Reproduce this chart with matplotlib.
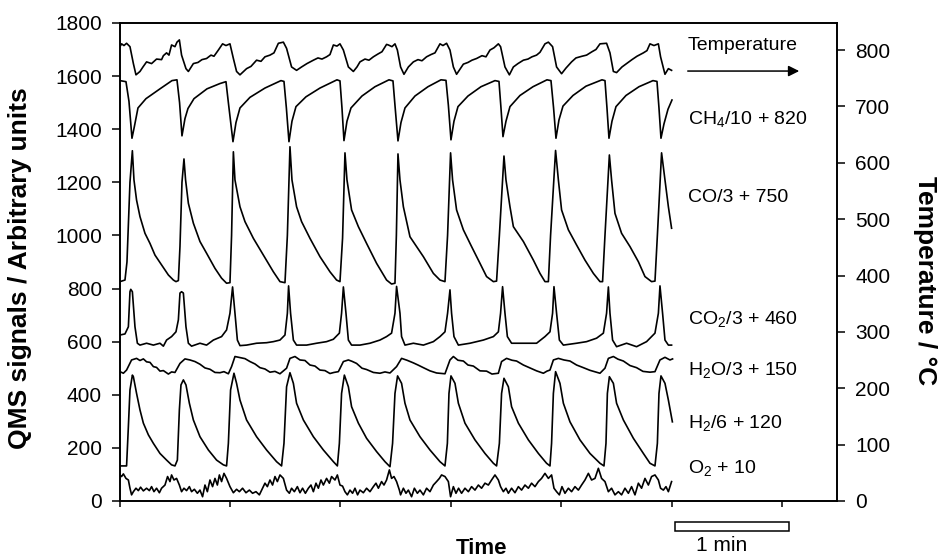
import numpy as np
import matplotlib
matplotlib.use("Agg")
import matplotlib.pyplot as plt
from matplotlib.patches import Rectangle

plt.rcParams['font.family'] = ['Liberation Sans', 'DejaVu Sans']
plt.rcParams['mathtext.fontset'] = 'custom'
plt.rcParams['mathtext.rm'] = 'Liberation Sans'

# time in seconds, QMS signals in arbitrary units (already offset), temperature in degC
t_ch4 = [0, 3, 4.5, 6, 7.2, 9, 13, 20, 26, 28.5, 29.8, 31, 32.5, 34, 37, 43.5, 50, 53, 54.2, 56.5,
         58, 60, 65, 72.5, 80.5, 82, 83.2, 84.5, 86, 88, 93, 100, 108.5, 110, 111, 112, 113.5, 115.5, 121, 127.5,
         134.5, 136.5, 137.5, 139, 140.5, 142.5, 147.5, 154, 160.5, 163, 164.2, 165.5, 167, 169, 174, 180.5, 187.5,
         189.5, 190.5, 191.5, 193, 195, 200, 206.5, 213.5, 215.5, 216.8, 218, 219.5, 221.5, 226.5, 233, 241, 242.5,
         243.5, 244.5, 246, 248, 253, 259.5, 266.5, 268.5, 269.5, 270.5, 272, 274, 276]
ch4 = [1583, 1579, 1505, 1366, 1410, 1480, 1515, 1552, 1583, 1586, 1500, 1375, 1440, 1478, 1515, 1552, 1572, 1579, 1500, 1353,
       1425, 1480, 1520, 1555, 1583, 1580, 1480, 1353, 1430, 1485, 1522, 1555, 1586, 1582, 1480, 1357, 1430, 1480, 1525, 1560,
       1586, 1582, 1490, 1356, 1425, 1480, 1525, 1560, 1586, 1584, 1490, 1360, 1430, 1485, 1525, 1560, 1583,
       1580, 1480, 1372, 1430, 1485, 1527, 1560, 1586, 1583, 1480, 1366, 1435, 1487, 1527, 1562, 1586, 1583,
       1480, 1366, 1430, 1485, 1527, 1560, 1583, 1580, 1480, 1366, 1420, 1475, 1510]

t_co = [0, 2.5, 3.5, 5, 6.2, 7, 8.3, 10, 12.5, 15, 17.5, 20.8, 24.2, 26.7, 28, 29.2, 30, 31, 32, 32.8,
        34.2, 36.7, 40, 43.3, 47.5, 50.8, 53.3, 55, 55.8, 56.7, 57.5, 60, 62.5, 66.7, 71.7, 76.7, 80, 82.5, 83.7, 85,
        86, 88.3, 90.8, 95, 100, 105, 108.3, 110, 111.3, 112.5, 113.5, 115.8, 119.2, 123.3, 128.3, 133.3, 135.8, 137.5,
        138.2, 139, 140, 141.7, 145, 148.3, 151.7, 156.7, 160, 162.5, 163.8, 165.3, 166.3, 168.3, 171.7, 175.8, 180,
        183.3, 186.7, 188.3, 189.7, 192, 193, 195, 196.7, 201.7, 206.7, 210, 212.5, 214.2, 215.3, 217.8, 219.2, 220.8,
        224.2, 228.3, 232.5, 236.7, 240, 241.3, 242.5, 244.7, 245.8, 247.5, 250.8, 255, 259.2, 262.5, 265.8, 267.5,
        268.7, 270.8, 272.5, 274.2, 275.8]
co = [826, 832, 900, 1200, 1319, 1209, 1133, 1071, 1008, 970, 926, 889, 851, 832, 826, 830, 958, 1200, 1288, 1209,
      1121, 1046, 977, 933, 876, 839, 820, 822, 1000, 1315, 1209, 1108, 1052, 989, 926, 863, 826, 822, 1000, 1334,
      1209, 1108, 1052, 989, 920, 863, 832, 826, 990, 1311, 1209, 1096, 1033, 970, 895, 832, 817, 820, 1000, 1307,
      1209, 1108, 995, 958, 920, 857, 832, 826, 1000, 1311, 1209, 1096, 1021, 958, 895, 845, 826, 828, 1000, 1299,
      1209, 1108, 1033, 977, 907, 857, 826, 826, 1000, 1320, 1209, 1096, 1021, 964, 907, 857, 826, 826, 1000, 1303,
      1209, 1083, 1008, 958, 901, 845, 826, 828, 1000, 1311, 1209, 1108, 1027]

t_co2 = [0, 2.5, 4.2, 5, 5.4, 6.2, 7.5, 8.7, 10, 13.3, 16.7, 20, 21.7, 23.3, 25.8, 28, 29.2, 30, 30.8, 31.7,
         33, 34.2, 35.8, 40, 43.3, 46.7, 50.8, 53.3, 55, 56.3, 57.5, 58.7, 60, 63.3, 68.3, 73.3, 76.7, 80, 82.5, 83.7,
         84.3, 85.3, 86.7, 88.3, 93.3, 98.3, 103.3, 106.7, 109.7, 110.8, 111.7, 113, 114.2, 115.8, 120, 125, 130, 133.3,
         135.8, 137.5, 138.3, 140, 140.8, 142.5, 146.7, 151.7, 156.7, 160, 162.5, 163.8, 165, 165.8, 167, 169.2, 175,
         181.7, 186.7, 189.2, 190.3, 191.3, 192.5, 193.7, 195.8, 201.7, 208.3, 212.5, 215, 216.3, 217, 218.3, 219.7,
         221.7, 228.3, 233.3, 238.3, 241.7, 243.3, 244.2, 245, 246.3, 248.3, 253.3, 258.3, 263.3, 267.5, 269.2, 270,
         271.3, 272.5, 274.2, 275.8]
co2 = [625, 629, 656, 788, 797, 788, 656, 594, 587, 594, 587, 594, 583, 606, 619, 637, 682, 783, 788, 783,
       656, 594, 583, 594, 587, 606, 619, 644, 707, 806, 707, 606, 585, 587, 594, 596, 600, 606, 625, 707,
       810, 707, 606, 587, 587, 594, 600, 609, 632, 707, 806, 707, 606, 587, 587, 594, 606, 619, 632, 707,
       808, 707, 619, 587, 594, 587, 600, 619, 637, 707, 795, 707, 619, 587, 594, 606, 619, 637, 707, 807,
       707, 619, 594, 594, 594, 619, 637, 707, 807, 707, 606, 587, 594, 600, 613, 632, 707, 806, 707, 606,
       581, 594, 581, 600, 632, 707, 810, 707, 606, 587, 587]

t_h2o = [0, 1.7, 3.3, 5.8, 8.3, 10, 11.7, 13.3, 15, 16.7, 18.3, 20, 21.7, 24.2, 25.8, 27.5, 30, 32.5, 35, 37.5,
         40, 42.5, 45, 47.5, 50, 52, 54.2, 55.8, 57.5, 60, 62.5, 65, 67.5, 70, 72.5, 75, 77.5, 80, 83.3, 85,
         87.5, 90, 92.5, 95, 97.5, 100, 102.5, 105, 107, 109.2, 111.7, 114.2, 116, 118.3, 121, 123.3, 126.7, 130, 132.5, 135,
         138.3, 140.8, 143.5, 146.7, 149, 151.7, 155, 158.3, 162.5, 165, 166.7, 169, 171.7, 174, 176.7, 180, 183.3, 186, 189.2, 190.8,
         193.3, 196, 198.3, 201.7, 205, 208.3, 211.7, 213.5, 215, 216.7, 219.2, 222, 225, 228.3, 231.7, 235, 240, 242.5, 244.2, 246.7,
         249, 251.7, 255, 258.3, 261.5, 265, 267.5, 270, 272.5, 275, 276.3]
h2o = [487, 481, 493, 531, 537, 529, 535, 524, 522, 506, 503, 489, 491, 478, 486, 484, 518, 535, 531, 525,
       515, 501, 496, 484, 483, 487, 479, 506, 544, 540, 536, 525, 516, 502, 497, 485, 488, 479, 500, 537,
       544, 531, 529, 512, 508, 493, 491, 480, 484, 487, 525, 531, 526, 518, 500, 495, 484, 481, 486, 482,
       506, 537, 530, 520, 512, 502, 490, 482, 479, 531, 544, 530, 527, 512, 508, 490, 489, 478, 481, 525,
       537, 530, 527, 512, 501, 490, 481, 489, 493, 531, 537, 531, 527, 512, 502, 492, 481, 500, 537, 544,
       534, 527, 510, 502, 488, 485, 487, 531, 541, 531, 535]

t_h2 = [0, 3.3, 4.2, 5, 6.2, 6.7, 8.3, 10, 11.7, 14.2, 16.7, 20, 23.3, 25.8, 27.5, 28.7, 29.7, 30.5, 31.7, 33,
        34.7, 36.7, 40, 44.2, 48.3, 51.7, 53.3, 54.2, 55.3, 57, 58.3, 60, 63.3, 68.3, 73.3, 78.3, 80.8, 82, 83.3, 85,
        86.7, 88.3, 91.7, 96.7, 101.7, 106.7, 108.7, 109.7, 110.8, 112.2, 114.2, 115.8, 119.2, 123.3, 128.3, 132.5, 135, 136.3, 137.5, 138.8,
        140.8, 142.5, 145, 150, 155, 160, 162.5, 163.7, 164.5, 165.5, 167.5, 169.2, 172.5, 177.5, 182.5, 186.7, 188.3, 189.7, 190.8, 192,
        194.2, 195.8, 199.2, 204.2, 209.2, 213.3, 215, 215.8, 216.7, 217.8, 220, 221.7, 225, 230, 235, 240, 242, 243, 243.7, 244.7,
        246.7, 248.3, 251.7, 256.7, 261.7, 265, 267.5, 268.7, 269.5, 270.5, 272.5, 274.2, 276.2]
h2 = [132, 132, 280, 418, 474, 468, 405, 343, 293, 249, 217, 179, 154, 136, 132, 154, 343, 437, 456, 437,
      368, 305, 242, 192, 154, 136, 132, 217, 418, 481, 443, 380, 305, 242, 192, 148, 132, 217, 430, 483,
      443, 368, 305, 242, 192, 148, 132, 217, 405, 474, 430, 355, 293, 236, 186, 148, 129, 217, 405, 471,
      443, 368, 305, 242, 192, 148, 132, 217, 405, 471, 443, 368, 293, 230, 179, 142, 132, 217, 405, 462,
      430, 355, 293, 230, 179, 142, 132, 217, 405, 487, 443, 368, 298, 230, 179, 142, 132, 217, 405, 468,
      443, 368, 305, 236, 179, 142, 132, 217, 405, 471, 443, 380, 298]

t_o2 = [0, 0.8, 1.7, 3, 4.2, 5, 5.8, 6.7, 8, 9.2, 10.3, 11.7, 13.3, 14.7, 15.8, 17, 18.3, 19.7, 20.8, 22.5,
        23.8, 25, 25.8, 27, 28.3, 29.7, 30.8, 32, 33.3, 34.7, 35.8, 37.2, 38.7, 40, 41.3, 42.5, 43.7, 45, 46.3, 47.5,
        48.7, 49.7, 50.8, 52, 53.3, 55, 56.7, 58.3, 59.7, 61.3, 63, 64.7, 66.3, 68, 69.7, 71.3, 72.5, 73.7, 75, 76.3,
        77.5, 78.7, 80, 81.7, 83.3, 84.7, 85.8, 87.2, 88.7, 90, 91.3, 92.7, 94.2, 95.5, 96.7, 98, 99.2, 100.5, 101.7, 103.3,
        104.7, 105.8, 107.5, 108.7, 110, 111.3, 112.5, 113.7, 115, 116.3, 117.5, 118.8, 120, 121.7, 123.3, 125, 126.7, 128, 129.2, 130.8,
        132, 133.3, 134.7, 135.8, 137, 138.3, 139.7, 140.3, 141.7, 143, 144.2, 145.8, 147.2, 148.7, 150, 151.7, 153.3, 155, 156.7, 158.3,
        159.7, 160.8, 162.5, 164.2, 165.3, 166.7, 168, 169.3, 170.8, 172.5, 174.2, 175.8, 177.5, 179.2, 180.8, 182.5, 184.2, 185.8, 187.5, 189.2,
        190.3, 191.7, 193, 194.2, 195.8, 197.5, 199.2, 200.8, 202.5, 204.2, 205.8, 207.5, 209.2, 210.8, 212.5, 214.2, 215.8, 217, 218.3, 219.7,
        221, 222.5, 224.2, 225.8, 227.5, 229.2, 230.8, 232.5, 234.2, 235.8, 237.5, 239.2, 240.8, 242.5, 244.2, 245.8, 247.5, 249.2, 250.8, 252.5,
        254.2, 255.8, 257.5, 259.2, 260.8, 262.5, 264.2, 265.8, 267.5, 269.2, 270.3, 271.7, 273, 274.2, 275.8]
o2 = [98, 92, 102, 85, 79, 48, 23, 35, 48, 39, 52, 38, 48, 39, 54, 35, 48, 31, 48, 60,
      92, 73, 98, 79, 85, 60, 35, 48, 39, 54, 35, 44, 29, 41, 16, 60, 35, 79, 54, 85,
      60, 98, 73, 104, 85, 54, 31, 44, 35, 48, 31, 41, 29, 35, 23, 48, 67, 54, 79, 60,
      92, 73, 98, 85, 41, 29, 48, 35, 54, 31, 48, 29, 48, 60, 35, 67, 48, 79, 60, 85,
      67, 92, 79, 98, 60, 56, 35, 23, 41, 29, 48, 23, 41, 31, 48, 35, 54, 67, 48, 73,
      60, 79, 117, 85, 92, 73, 41, 23, 48, 29, 41, 16, 48, 29, 41, 23, 48, 35, 60, 73,
      85, 98, 92, 73, 16, 54, 29, 48, 29, 48, 35, 54, 41, 60, 48, 67, 60, 79, 98, 79,
      54, 35, 48, 29, 48, 31, 54, 41, 60, 48, 67, 54, 73, 85, 104, 85, 98, 48, 35, 23,
      54, 29, 48, 35, 54, 41, 60, 79, 104, 79, 85, 123, 85, 73, 35, 48, 23, 35, 23, 48,
      29, 54, 23, 67, 48, 85, 60, 92, 98, 79, 48, 41, 54, 35, 73]

t_temp = [0, 0.8, 2, 3.3, 5, 6.7, 8, 10, 11.5, 13.3, 15.8, 18.3, 20.8, 21.7, 23.3, 24.5, 25.8, 27.5, 28.5, 29.7,
          30.8, 33, 34.2, 36.7, 39, 41, 43.3, 45.5, 47, 49.2, 51.3, 53, 55, 56.7, 58.3, 60, 63.3, 65.5, 68.3, 70.5,
          72.5, 75, 77, 79.2, 81.7, 83.3, 85.8, 88.3, 90.8, 93.5, 96.7, 99, 101, 103.3, 105, 106.7, 108.5, 110, 111.7, 114.2,
          116.7, 118.5, 120, 122.5, 124.5, 126.7, 129, 131, 133.3, 134.2, 136, 137.5, 138.7, 140.3, 142, 144.2, 146.7, 149, 151, 153.3,
          155.5, 157.5, 160, 161.5, 163.3, 165, 166.7, 168.3, 171.7, 174, 176, 178.3, 181, 183, 185, 187, 189.2, 190.3, 192.5, 194.7,
          196.7, 199, 201.7, 204, 206, 208.3, 210, 212.5, 214.2, 216.3, 218.3, 220.8, 223, 225.8, 228, 231, 233.3, 236, 238, 240,
          243.3, 245, 246.7, 248.3, 251, 253.3, 256, 258.5, 261.7, 263.5, 265, 267, 269.2, 270.3, 272.5, 274.2, 275.8]
temp = [806, 811, 808, 812, 806, 776, 756, 762, 770, 779, 776, 784, 783, 790, 795, 791, 809, 806, 814, 818,
        791, 767, 762, 776, 778, 783, 785, 791, 789, 800, 811, 808, 811, 785, 762, 756, 767, 771, 782, 780,
        788, 791, 795, 812, 814, 803, 770, 764, 770, 776, 782, 786, 784, 788, 792, 809, 807, 811, 800, 770,
        762, 770, 779, 784, 782, 788, 793, 797, 810, 809, 806, 811, 800, 770, 757, 770, 779, 783, 781, 788,
        792, 795, 811, 808, 812, 800, 770, 757, 775, 778, 782, 785, 790, 788, 800, 804, 811, 806, 770, 756,
        770, 776, 782, 784, 788, 791, 796, 811, 814, 806, 770, 758, 768, 779, 786, 789, 791, 797, 801, 811,
        812, 795, 762, 760, 770, 776, 783, 789, 795, 799, 811, 808, 811, 788, 757, 767, 764]

labels = ['CH$_\\mathrm{4}$/10 + 820', 'CO/3 + 750', 'CO$_\\mathrm{2}$/3 + 460',
          'H$_\\mathrm{2}$O/3 + 150', 'H$_\\mathrm{2}$/6 + 120', 'O$_\\mathrm{2}$ + 10']
label_y = [1416, 1127, 663, 471, 274, 102]
xtick_pos = [0, 55, 110, 165.5, 220.5, 276, 331]

fig = plt.figure(figsize=(9.38, 5.58), dpi=100)
ax = fig.add_axes([0.1279, 0.1022, 0.7644, 0.8566])
ax2 = ax.twinx()

lw = 1.2
for tt, yy in [(t_ch4, ch4), (t_co, co), (t_co2, co2), (t_h2o, h2o), (t_h2, h2), (t_o2, o2)]:
    ax.plot(tt, yy, color='black', lw=lw)
ax2.plot(t_temp, temp, color='black', lw=lw)

ax.set_xlim(0, 358.5)
ax.set_ylim(0, 1800)
ax2.set_ylim(0, 848)
ax.set_yticks(np.arange(0, 1801, 200))
ax2.set_yticks(np.arange(0, 801, 100))
ax.set_xticks(xtick_pos)
ax.set_xticklabels([])

for a in (ax, ax2):
    for s in a.spines.values():
        s.set_linewidth(1.2)
ax.tick_params(axis='y', direction='out', length=6, width=1.1, labelsize=15, pad=7)
ax.tick_params(axis='x', direction='out', length=4, width=1.1)
ax2.tick_params(axis='y', direction='out', length=6, width=1.1, labelsize=15, pad=7)

# series labels on the right side of the plot
for lab, yv in zip(labels, label_y):
    ax.text(284, yv, lab, fontsize=14, ha='left', va='baseline')
ax.text(284, 1698, 'Temperature', fontsize=14, ha='left', va='baseline')
ax.annotate('', xy=(341, 1619), xytext=(282.5, 1619),
            arrowprops=dict(arrowstyle='-|>', color='black', lw=1.1, mutation_scale=16))

# 1 min scale bar below the axis
ax.add_patch(Rectangle((277.5, -112), 57, 32, facecolor='white', edgecolor='black',
                       lw=1.1, clip_on=False))
ax.text(301, -166, '1 min', fontsize=15, ha='center', va='center', clip_on=False)

fig.text(482 / 938, 1 - 548 / 558, 'Time', fontsize=16, fontweight='bold', ha='center', va='center')
fig.text(20 / 938, 1 - 268 / 558, 'QMS signals / Arbitrary units', fontsize=19, fontweight='bold',
         rotation=90, ha='center', va='center')
fig.text(925 / 938, 1 - 281 / 558, 'Temperature / °C', fontsize=19, fontweight='bold',
         rotation=-90, ha='center', va='center')

fig.savefig('out.png', dpi=100)
